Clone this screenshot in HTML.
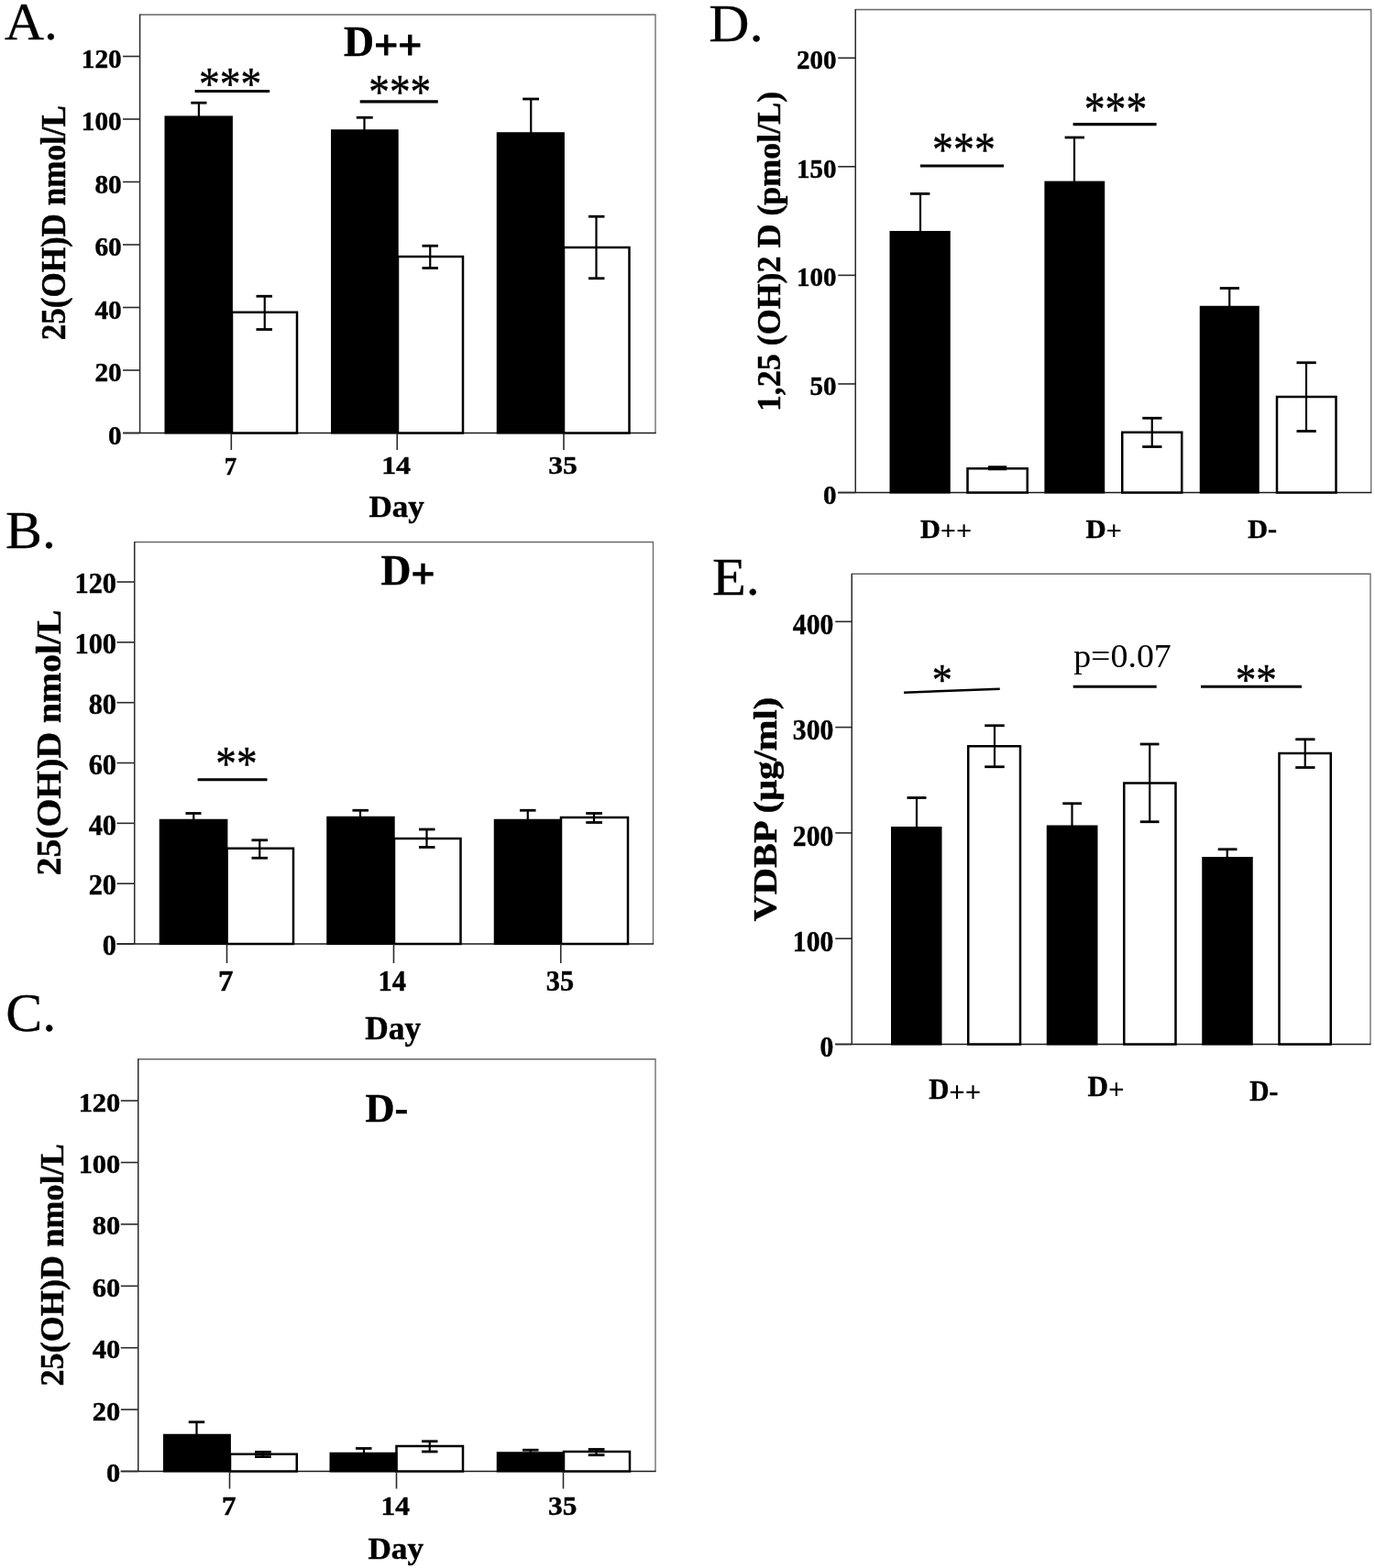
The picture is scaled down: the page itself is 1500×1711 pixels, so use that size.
<!DOCTYPE html>
<html><head><meta charset="utf-8"><title>Figure</title>
<style>html,body{margin:0;padding:0;background:#fff}svg{display:block}text{font-family:"Liberation Serif",serif;fill:#000}</style>
</head><body>
<svg width="1500" height="1711" viewBox="0 0 1500 1711">
<rect width="1500" height="1711" fill="#fff"/>
<path d="M152.60,16.00 H715.00 V472.50" fill="none" stroke="#666" stroke-width="1.3"/>
<line x1="152.60" y1="15.40" x2="152.60" y2="472.50" stroke="#2a2a2a" stroke-width="1.5"/>
<line x1="134.00" y1="472.50" x2="715.60" y2="472.50" stroke="#1a1a1a" stroke-width="1.6"/>
<line x1="134.00" y1="472.50" x2="152.60" y2="472.50" stroke="#2a2a2a" stroke-width="1.6"/>
<text transform="translate(118.05,484.50) scale(1.0000,1)" font-size="29.30" font-weight="bold" stroke="#000" stroke-width="0.45">0</text>
<line x1="134.00" y1="404.00" x2="152.60" y2="404.00" stroke="#2a2a2a" stroke-width="1.6"/>
<text transform="translate(103.40,416.00) scale(1.0000,1)" font-size="29.30" font-weight="bold" stroke="#000" stroke-width="0.45">20</text>
<line x1="134.00" y1="335.50" x2="152.60" y2="335.50" stroke="#2a2a2a" stroke-width="1.6"/>
<text transform="translate(103.40,347.50) scale(1.0000,1)" font-size="29.30" font-weight="bold" stroke="#000" stroke-width="0.45">40</text>
<line x1="134.00" y1="267.00" x2="152.60" y2="267.00" stroke="#2a2a2a" stroke-width="1.6"/>
<text transform="translate(103.40,279.00) scale(1.0000,1)" font-size="29.30" font-weight="bold" stroke="#000" stroke-width="0.45">60</text>
<line x1="134.00" y1="198.50" x2="152.60" y2="198.50" stroke="#2a2a2a" stroke-width="1.6"/>
<text transform="translate(103.40,210.50) scale(1.0000,1)" font-size="29.30" font-weight="bold" stroke="#000" stroke-width="0.45">80</text>
<line x1="134.00" y1="130.00" x2="152.60" y2="130.00" stroke="#2a2a2a" stroke-width="1.6"/>
<text transform="translate(88.75,142.00) scale(1.0000,1)" font-size="29.30" font-weight="bold" stroke="#000" stroke-width="0.45">100</text>
<line x1="134.00" y1="61.50" x2="152.60" y2="61.50" stroke="#2a2a2a" stroke-width="1.6"/>
<text transform="translate(88.75,73.50) scale(1.0000,1)" font-size="29.30" font-weight="bold" stroke="#000" stroke-width="0.45">120</text>
<rect x="253.00" y="340.75" width="71.00" height="131.75" fill="#fff" stroke="#000" stroke-width="2.5"/>
<line x1="288.75" y1="323.25" x2="288.75" y2="359.50" stroke="#000" stroke-width="2.2"/>
<line x1="279.50" y1="323.25" x2="297.00" y2="323.25" stroke="#000" stroke-width="2.8"/>
<line x1="279.50" y1="359.50" x2="297.00" y2="359.50" stroke="#000" stroke-width="2.8"/>
<rect x="434.00" y="280.00" width="71.00" height="192.50" fill="#fff" stroke="#000" stroke-width="2.5"/>
<line x1="469.25" y1="268.25" x2="469.25" y2="292.50" stroke="#000" stroke-width="2.2"/>
<line x1="460.50" y1="268.25" x2="478.00" y2="268.25" stroke="#000" stroke-width="2.8"/>
<line x1="460.50" y1="292.50" x2="478.00" y2="292.50" stroke="#000" stroke-width="2.8"/>
<rect x="615.00" y="270.00" width="71.50" height="202.50" fill="#fff" stroke="#000" stroke-width="2.5"/>
<line x1="650.50" y1="236.25" x2="650.50" y2="303.75" stroke="#000" stroke-width="2.2"/>
<line x1="642.00" y1="236.25" x2="659.50" y2="236.25" stroke="#000" stroke-width="2.8"/>
<line x1="642.00" y1="303.75" x2="659.50" y2="303.75" stroke="#000" stroke-width="2.8"/>
<rect x="179.50" y="126.40" width="74.40" height="347.10" fill="#000"/>
<line x1="216.90" y1="112.20" x2="216.90" y2="127.00" stroke="#000" stroke-width="2.2"/>
<line x1="208.30" y1="112.20" x2="225.50" y2="112.20" stroke="#000" stroke-width="2.8"/>
<rect x="361.00" y="141.25" width="73.70" height="332.25" fill="#000"/>
<line x1="397.50" y1="128.25" x2="397.50" y2="142.00" stroke="#000" stroke-width="2.2"/>
<line x1="388.75" y1="128.25" x2="406.75" y2="128.25" stroke="#000" stroke-width="2.8"/>
<rect x="541.75" y="144.25" width="74.15" height="329.25" fill="#000"/>
<line x1="579.25" y1="108.00" x2="579.25" y2="145.00" stroke="#000" stroke-width="2.2"/>
<line x1="570.20" y1="108.00" x2="588.00" y2="108.00" stroke="#000" stroke-width="2.8"/>
<line x1="252.30" y1="472.50" x2="252.30" y2="491.00" stroke="#2a2a2a" stroke-width="1.6"/>
<line x1="433.25" y1="472.50" x2="433.25" y2="491.00" stroke="#2a2a2a" stroke-width="1.6"/>
<line x1="615.00" y1="472.50" x2="615.00" y2="491.00" stroke="#2a2a2a" stroke-width="1.6"/>
<text transform="translate(244.70,517.50) scale(0.9540,1)" font-size="28.24" font-weight="bold" stroke="#000" stroke-width="0.45">7</text>
<text transform="translate(416.20,517.20) scale(1.1396,1)" font-size="27.95" font-weight="bold" stroke="#000" stroke-width="0.45">14</text>
<text transform="translate(598.31,517.20) scale(1.1355,1)" font-size="27.85" font-weight="bold" stroke="#000" stroke-width="0.45">35</text>
<text transform="translate(402.39,563.75) scale(1.0219,1)" font-size="34.35" font-weight="bold" stroke="#000" stroke-width="0.45">Day</text>
<text transform="translate(375.10,61.10) scale(0.9967,1)" font-size="45.95" font-weight="bold" stroke="#000" stroke-width="0.45">D<tspan dy="4.04" stroke-width="1.15">++</tspan></text>
<text transform="translate(71.00,371.29) rotate(-90) scale(0.9444,1)" font-size="37.12" font-weight="bold" stroke="#000" stroke-width="0.45">25(OH)D nmol/L</text>
<line x1="212.60" y1="99.50" x2="294.20" y2="99.50" stroke="#000" stroke-width="3.1"/>
<text transform="translate(217.02,108.13) scale(0.8956,1)" font-size="50.88" font-weight="normal" stroke="#000" stroke-width="0.45">***</text>
<line x1="392.70" y1="110.90" x2="477.80" y2="110.90" stroke="#000" stroke-width="3.1"/>
<text transform="translate(402.23,117.84) scale(0.8727,1)" font-size="51.97" font-weight="normal" stroke="#000" stroke-width="0.45">***</text>
<text transform="translate(4.90,43.00) scale(1.0491,1)" font-size="56.82" font-weight="normal" stroke="#000" stroke-width="0.3">A.</text>
<path d="M146.75,591.50 H712.50 V1030.00" fill="none" stroke="#666" stroke-width="1.3"/>
<line x1="146.75" y1="590.90" x2="146.75" y2="1030.00" stroke="#2a2a2a" stroke-width="1.5"/>
<line x1="127.50" y1="1030.00" x2="713.10" y2="1030.00" stroke="#1a1a1a" stroke-width="1.6"/>
<line x1="127.50" y1="1030.00" x2="146.75" y2="1030.00" stroke="#2a2a2a" stroke-width="1.6"/>
<text transform="translate(111.84,1042.20) scale(0.9470,1)" font-size="32.10" font-weight="bold" stroke="#000" stroke-width="0.45">0</text>
<line x1="127.50" y1="964.17" x2="146.75" y2="964.17" stroke="#2a2a2a" stroke-width="1.6"/>
<text transform="translate(96.64,976.37) scale(0.9470,1)" font-size="32.10" font-weight="bold" stroke="#000" stroke-width="0.45">20</text>
<line x1="127.50" y1="898.34" x2="146.75" y2="898.34" stroke="#2a2a2a" stroke-width="1.6"/>
<text transform="translate(96.64,910.54) scale(0.9470,1)" font-size="32.10" font-weight="bold" stroke="#000" stroke-width="0.45">40</text>
<line x1="127.50" y1="832.51" x2="146.75" y2="832.51" stroke="#2a2a2a" stroke-width="1.6"/>
<text transform="translate(96.64,844.71) scale(0.9470,1)" font-size="32.10" font-weight="bold" stroke="#000" stroke-width="0.45">60</text>
<line x1="127.50" y1="766.68" x2="146.75" y2="766.68" stroke="#2a2a2a" stroke-width="1.6"/>
<text transform="translate(96.64,778.88) scale(0.9470,1)" font-size="32.10" font-weight="bold" stroke="#000" stroke-width="0.45">80</text>
<line x1="127.50" y1="700.85" x2="146.75" y2="700.85" stroke="#2a2a2a" stroke-width="1.6"/>
<text transform="translate(81.44,713.05) scale(0.9470,1)" font-size="32.10" font-weight="bold" stroke="#000" stroke-width="0.45">100</text>
<line x1="127.50" y1="635.02" x2="146.75" y2="635.02" stroke="#2a2a2a" stroke-width="1.6"/>
<text transform="translate(81.44,647.22) scale(0.9470,1)" font-size="32.10" font-weight="bold" stroke="#000" stroke-width="0.45">120</text>
<rect x="247.50" y="925.75" width="72.50" height="104.25" fill="#fff" stroke="#000" stroke-width="2.5"/>
<line x1="283.25" y1="916.75" x2="283.25" y2="936.25" stroke="#000" stroke-width="2.2"/>
<line x1="274.50" y1="916.75" x2="292.00" y2="916.75" stroke="#000" stroke-width="2.8"/>
<line x1="274.50" y1="936.25" x2="292.00" y2="936.25" stroke="#000" stroke-width="2.8"/>
<rect x="430.00" y="915.00" width="72.50" height="115.00" fill="#fff" stroke="#000" stroke-width="2.5"/>
<line x1="465.50" y1="905.00" x2="465.50" y2="924.50" stroke="#000" stroke-width="2.2"/>
<line x1="457.00" y1="905.00" x2="474.50" y2="905.00" stroke="#000" stroke-width="2.8"/>
<line x1="457.00" y1="924.50" x2="474.50" y2="924.50" stroke="#000" stroke-width="2.8"/>
<rect x="612.00" y="892.00" width="73.00" height="138.00" fill="#fff" stroke="#000" stroke-width="2.5"/>
<line x1="648.00" y1="887.50" x2="648.00" y2="897.50" stroke="#000" stroke-width="2.2"/>
<line x1="639.25" y1="887.50" x2="657.00" y2="887.50" stroke="#000" stroke-width="2.8"/>
<line x1="639.25" y1="897.50" x2="657.00" y2="897.50" stroke="#000" stroke-width="2.8"/>
<rect x="173.75" y="893.75" width="74.65" height="137.25" fill="#000"/>
<line x1="211.25" y1="887.50" x2="211.25" y2="894.50" stroke="#000" stroke-width="2.2"/>
<line x1="202.50" y1="887.50" x2="219.50" y2="887.50" stroke="#000" stroke-width="2.8"/>
<rect x="356.25" y="890.75" width="74.45" height="140.25" fill="#000"/>
<line x1="393.00" y1="884.25" x2="393.00" y2="891.50" stroke="#000" stroke-width="2.2"/>
<line x1="384.50" y1="884.25" x2="402.00" y2="884.25" stroke="#000" stroke-width="2.8"/>
<rect x="538.75" y="893.75" width="73.95" height="137.25" fill="#000"/>
<line x1="575.75" y1="884.25" x2="575.75" y2="894.50" stroke="#000" stroke-width="2.2"/>
<line x1="567.00" y1="884.25" x2="584.50" y2="884.25" stroke="#000" stroke-width="2.8"/>
<line x1="247.50" y1="1030.00" x2="247.50" y2="1051.00" stroke="#2a2a2a" stroke-width="1.6"/>
<line x1="429.50" y1="1030.00" x2="429.50" y2="1051.00" stroke="#2a2a2a" stroke-width="1.6"/>
<line x1="611.75" y1="1030.00" x2="611.75" y2="1051.00" stroke="#2a2a2a" stroke-width="1.6"/>
<text transform="translate(238.11,1081.25) scale(1.0396,1)" font-size="31.68" font-weight="bold" stroke="#000" stroke-width="0.45">7</text>
<text transform="translate(412.56,1081.25) scale(0.9464,1)" font-size="32.20" font-weight="bold" stroke="#000" stroke-width="0.45">14</text>
<text transform="translate(595.86,1081.25) scale(0.9437,1)" font-size="32.08" font-weight="bold" stroke="#000" stroke-width="0.45">35</text>
<text transform="translate(398.13,1133.75) scale(0.9762,1)" font-size="36.26" font-weight="bold" stroke="#000" stroke-width="0.45">Day</text>
<text transform="translate(415.45,637.50) scale(0.9957,1)" font-size="45.80" font-weight="bold" stroke="#000" stroke-width="0.45">D<tspan dy="4.03" stroke-width="1.15">+</tspan></text>
<text transform="translate(65.70,955.44) rotate(-90) scale(1.0737,1)" font-size="36.98" font-weight="bold" stroke="#000" stroke-width="0.45">25(OH)D nmol/L</text>
<line x1="215.60" y1="850.80" x2="291.50" y2="850.80" stroke="#000" stroke-width="3.1"/>
<text transform="translate(235.34,851.44) scale(0.8701,1)" font-size="51.97" font-weight="normal" stroke="#000" stroke-width="0.45">**</text>
<text transform="translate(6.11,597.50) scale(1.0483,1)" font-size="56.95" font-weight="normal" stroke="#000" stroke-width="0.3">B.</text>
<path d="M150.75,1155.75 H715.00 V1605.50" fill="none" stroke="#666" stroke-width="1.3"/>
<line x1="150.75" y1="1155.15" x2="150.75" y2="1605.50" stroke="#2a2a2a" stroke-width="1.5"/>
<line x1="131.75" y1="1605.50" x2="715.60" y2="1605.50" stroke="#1a1a1a" stroke-width="1.6"/>
<line x1="131.75" y1="1605.50" x2="150.75" y2="1605.50" stroke="#2a2a2a" stroke-width="1.6"/>
<text transform="translate(116.11,1616.90) scale(1.0400,1)" font-size="29.30" font-weight="bold" stroke="#000" stroke-width="0.45">0</text>
<line x1="131.75" y1="1538.10" x2="150.75" y2="1538.10" stroke="#2a2a2a" stroke-width="1.6"/>
<text transform="translate(100.87,1549.50) scale(1.0400,1)" font-size="29.30" font-weight="bold" stroke="#000" stroke-width="0.45">20</text>
<line x1="131.75" y1="1470.70" x2="150.75" y2="1470.70" stroke="#2a2a2a" stroke-width="1.6"/>
<text transform="translate(100.87,1482.10) scale(1.0400,1)" font-size="29.30" font-weight="bold" stroke="#000" stroke-width="0.45">40</text>
<line x1="131.75" y1="1403.30" x2="150.75" y2="1403.30" stroke="#2a2a2a" stroke-width="1.6"/>
<text transform="translate(100.87,1414.70) scale(1.0400,1)" font-size="29.30" font-weight="bold" stroke="#000" stroke-width="0.45">60</text>
<line x1="131.75" y1="1335.90" x2="150.75" y2="1335.90" stroke="#2a2a2a" stroke-width="1.6"/>
<text transform="translate(100.87,1347.30) scale(1.0400,1)" font-size="29.30" font-weight="bold" stroke="#000" stroke-width="0.45">80</text>
<line x1="131.75" y1="1268.50" x2="150.75" y2="1268.50" stroke="#2a2a2a" stroke-width="1.6"/>
<text transform="translate(85.63,1279.90) scale(1.0400,1)" font-size="29.30" font-weight="bold" stroke="#000" stroke-width="0.45">100</text>
<line x1="131.75" y1="1201.10" x2="150.75" y2="1201.10" stroke="#2a2a2a" stroke-width="1.6"/>
<text transform="translate(85.63,1212.50) scale(1.0400,1)" font-size="29.30" font-weight="bold" stroke="#000" stroke-width="0.45">120</text>
<rect x="251.00" y="1586.75" width="72.75" height="18.75" fill="#fff" stroke="#000" stroke-width="2.5"/>
<line x1="286.75" y1="1584.40" x2="286.75" y2="1589.60" stroke="#000" stroke-width="2.2"/>
<line x1="278.00" y1="1584.40" x2="295.75" y2="1584.40" stroke="#000" stroke-width="2.8"/>
<line x1="278.00" y1="1589.60" x2="295.75" y2="1589.60" stroke="#000" stroke-width="2.8"/>
<rect x="432.50" y="1578.00" width="72.50" height="27.50" fill="#fff" stroke="#000" stroke-width="2.5"/>
<line x1="468.75" y1="1572.75" x2="468.75" y2="1584.00" stroke="#000" stroke-width="2.2"/>
<line x1="460.00" y1="1572.75" x2="477.50" y2="1572.75" stroke="#000" stroke-width="2.8"/>
<line x1="460.00" y1="1584.00" x2="477.50" y2="1584.00" stroke="#000" stroke-width="2.8"/>
<rect x="615.00" y="1584.00" width="72.00" height="21.50" fill="#fff" stroke="#000" stroke-width="2.5"/>
<line x1="650.50" y1="1581.50" x2="650.50" y2="1587.75" stroke="#000" stroke-width="2.2"/>
<line x1="641.75" y1="1581.50" x2="659.50" y2="1581.50" stroke="#000" stroke-width="2.8"/>
<line x1="641.75" y1="1587.75" x2="659.50" y2="1587.75" stroke="#000" stroke-width="2.8"/>
<rect x="178.00" y="1564.75" width="73.90" height="41.75" fill="#000"/>
<line x1="214.50" y1="1551.75" x2="214.50" y2="1565.50" stroke="#000" stroke-width="2.2"/>
<line x1="205.75" y1="1551.75" x2="223.25" y2="1551.75" stroke="#000" stroke-width="2.8"/>
<rect x="359.50" y="1584.75" width="73.90" height="21.75" fill="#000"/>
<line x1="397.00" y1="1580.50" x2="397.00" y2="1585.50" stroke="#000" stroke-width="2.2"/>
<line x1="388.00" y1="1580.50" x2="405.50" y2="1580.50" stroke="#000" stroke-width="2.8"/>
<rect x="541.75" y="1584.25" width="73.95" height="22.25" fill="#000"/>
<line x1="578.75" y1="1582.25" x2="578.75" y2="1585.00" stroke="#000" stroke-width="2.2"/>
<line x1="570.00" y1="1582.25" x2="587.50" y2="1582.25" stroke="#000" stroke-width="2.8"/>
<line x1="250.50" y1="1605.50" x2="250.50" y2="1624.50" stroke="#2a2a2a" stroke-width="1.6"/>
<line x1="432.50" y1="1605.50" x2="432.50" y2="1624.50" stroke="#2a2a2a" stroke-width="1.6"/>
<line x1="614.50" y1="1605.50" x2="614.50" y2="1624.50" stroke="#2a2a2a" stroke-width="1.6"/>
<text transform="translate(241.96,1653.00) scale(1.0459,1)" font-size="29.77" font-weight="bold" stroke="#000" stroke-width="0.45">7</text>
<text transform="translate(415.50,1653.00) scale(1.0595,1)" font-size="29.55" font-weight="bold" stroke="#000" stroke-width="0.45">14</text>
<text transform="translate(598.07,1653.00) scale(1.0651,1)" font-size="29.43" font-weight="bold" stroke="#000" stroke-width="0.45">35</text>
<text transform="translate(401.38,1701.00) scale(1.0262,1)" font-size="34.35" font-weight="bold" stroke="#000" stroke-width="0.45">Day</text>
<text transform="translate(398.47,1223.75) scale(0.9940,1)" font-size="44.66" font-weight="bold" stroke="#000" stroke-width="0.45">D-</text>
<text transform="translate(68.75,1512.54) rotate(-90) scale(1.0065,1)" font-size="35.97" font-weight="bold" stroke="#000" stroke-width="0.45">25(OH)D nmol/L</text>
<text transform="translate(6.35,1125.00) scale(1.0258,1)" font-size="58.49" font-weight="normal" stroke="#000" stroke-width="0.3">C.</text>
<path d="M933.25,10.50 H1495.75 V537.50" fill="none" stroke="#666" stroke-width="1.3"/>
<line x1="933.25" y1="9.90" x2="933.25" y2="537.50" stroke="#2a2a2a" stroke-width="1.5"/>
<line x1="914.25" y1="537.50" x2="1496.35" y2="537.50" stroke="#1a1a1a" stroke-width="1.6"/>
<line x1="914.25" y1="537.50" x2="933.25" y2="537.50" stroke="#2a2a2a" stroke-width="1.6"/>
<text transform="translate(897.99,549.50) scale(1.0000,1)" font-size="29.00" font-weight="bold" stroke="#000" stroke-width="0.45">0</text>
<line x1="914.25" y1="418.94" x2="933.25" y2="418.94" stroke="#2a2a2a" stroke-width="1.6"/>
<text transform="translate(883.49,430.94) scale(1.0000,1)" font-size="29.00" font-weight="bold" stroke="#000" stroke-width="0.45">50</text>
<line x1="914.25" y1="300.38" x2="933.25" y2="300.38" stroke="#2a2a2a" stroke-width="1.6"/>
<text transform="translate(868.99,312.38) scale(1.0000,1)" font-size="29.00" font-weight="bold" stroke="#000" stroke-width="0.45">100</text>
<line x1="914.25" y1="181.82" x2="933.25" y2="181.82" stroke="#2a2a2a" stroke-width="1.6"/>
<text transform="translate(868.99,193.82) scale(1.0000,1)" font-size="29.00" font-weight="bold" stroke="#000" stroke-width="0.45">150</text>
<line x1="914.25" y1="63.26" x2="933.25" y2="63.26" stroke="#2a2a2a" stroke-width="1.6"/>
<text transform="translate(868.99,75.26) scale(1.0000,1)" font-size="29.00" font-weight="bold" stroke="#000" stroke-width="0.45">200</text>
<rect x="1055.50" y="511.25" width="65.25" height="26.25" fill="#fff" stroke="#000" stroke-width="2.5"/>
<line x1="1078.00" y1="510.75" x2="1098.25" y2="510.75" stroke="#000" stroke-width="5"/>
<rect x="1224.25" y="471.75" width="65.00" height="65.75" fill="#fff" stroke="#000" stroke-width="2.5"/>
<line x1="1256.75" y1="456.25" x2="1256.75" y2="487.50" stroke="#000" stroke-width="2.2"/>
<line x1="1246.25" y1="456.25" x2="1267.50" y2="456.25" stroke="#000" stroke-width="2.8"/>
<line x1="1246.25" y1="487.50" x2="1267.50" y2="487.50" stroke="#000" stroke-width="2.8"/>
<rect x="1393.00" y="433.00" width="64.50" height="104.50" fill="#fff" stroke="#000" stroke-width="2.5"/>
<line x1="1425.00" y1="395.75" x2="1425.00" y2="470.50" stroke="#000" stroke-width="2.2"/>
<line x1="1414.50" y1="395.75" x2="1435.75" y2="395.75" stroke="#000" stroke-width="2.8"/>
<line x1="1414.50" y1="470.50" x2="1435.75" y2="470.50" stroke="#000" stroke-width="2.8"/>
<rect x="970.50" y="252.00" width="66.25" height="286.50" fill="#000"/>
<line x1="1004.00" y1="211.40" x2="1004.00" y2="253.00" stroke="#000" stroke-width="2.2"/>
<line x1="993.00" y1="211.40" x2="1014.40" y2="211.40" stroke="#000" stroke-width="2.8"/>
<rect x="1139.40" y="197.60" width="65.80" height="340.90" fill="#000"/>
<line x1="1172.00" y1="150.00" x2="1172.00" y2="198.50" stroke="#000" stroke-width="2.2"/>
<line x1="1161.60" y1="150.00" x2="1183.00" y2="150.00" stroke="#000" stroke-width="2.8"/>
<rect x="1308.75" y="333.75" width="65.00" height="204.75" fill="#000"/>
<line x1="1341.25" y1="314.50" x2="1341.25" y2="334.50" stroke="#000" stroke-width="2.2"/>
<line x1="1330.75" y1="314.50" x2="1352.00" y2="314.50" stroke="#000" stroke-width="2.8"/>
<text transform="translate(1003.97,586.75) scale(1.0298,1)" font-size="29.39" font-weight="bold" stroke="#000" stroke-width="0.45">D<tspan dy="2.59" stroke-width="0">++</tspan></text>
<text transform="translate(1184.46,586.75) scale(1.0437,1)" font-size="29.39" font-weight="bold" stroke="#000" stroke-width="0.45">D<tspan dy="2.59" stroke-width="0">+</tspan></text>
<text transform="translate(1361.22,586.75) scale(1.0267,1)" font-size="29.39" font-weight="bold" stroke="#000" stroke-width="0.45">D-</text>
<text transform="translate(851.25,449.12) rotate(-90) scale(0.9991,1)" font-size="35.97" font-weight="bold" stroke="#000" stroke-width="0.45">1,25 (OH)2 D (pmol/L)</text>
<line x1="1004.00" y1="181.00" x2="1095.00" y2="181.00" stroke="#000" stroke-width="3.1"/>
<text transform="translate(1017.11,180.93) scale(0.8598,1)" font-size="53.33" font-weight="normal" stroke="#000" stroke-width="0.45">***</text>
<line x1="1170.60" y1="135.60" x2="1261.60" y2="135.60" stroke="#000" stroke-width="3.1"/>
<text transform="translate(1182.71,136.93) scale(0.8571,1)" font-size="53.33" font-weight="normal" stroke="#000" stroke-width="0.45">***</text>
<text transform="translate(773.16,44.50) scale(1.0844,1)" font-size="56.49" font-weight="normal" stroke="#000" stroke-width="0.3">D.</text>
<path d="M929.25,626.25 H1495.00 V1139.50" fill="none" stroke="#666" stroke-width="1.3"/>
<line x1="929.25" y1="625.65" x2="929.25" y2="1139.50" stroke="#2a2a2a" stroke-width="1.5"/>
<line x1="911.25" y1="1139.50" x2="1495.60" y2="1139.50" stroke="#1a1a1a" stroke-width="1.6"/>
<line x1="911.25" y1="1139.50" x2="929.25" y2="1139.50" stroke="#2a2a2a" stroke-width="1.6"/>
<text transform="translate(894.48,1153.25) scale(0.9100,1)" font-size="32.60" font-weight="bold" stroke="#000" stroke-width="0.45">0</text>
<line x1="911.25" y1="1024.20" x2="929.25" y2="1024.20" stroke="#2a2a2a" stroke-width="1.6"/>
<text transform="translate(864.81,1037.95) scale(0.9100,1)" font-size="32.60" font-weight="bold" stroke="#000" stroke-width="0.45">100</text>
<line x1="911.25" y1="908.90" x2="929.25" y2="908.90" stroke="#2a2a2a" stroke-width="1.6"/>
<text transform="translate(864.81,922.65) scale(0.9100,1)" font-size="32.60" font-weight="bold" stroke="#000" stroke-width="0.45">200</text>
<line x1="911.25" y1="793.60" x2="929.25" y2="793.60" stroke="#2a2a2a" stroke-width="1.6"/>
<text transform="translate(864.81,807.35) scale(0.9100,1)" font-size="32.60" font-weight="bold" stroke="#000" stroke-width="0.45">300</text>
<line x1="911.25" y1="678.30" x2="929.25" y2="678.30" stroke="#2a2a2a" stroke-width="1.6"/>
<text transform="translate(864.81,692.05) scale(0.9100,1)" font-size="32.60" font-weight="bold" stroke="#000" stroke-width="0.45">400</text>
<rect x="1056.25" y="814.25" width="56.75" height="325.25" fill="#fff" stroke="#000" stroke-width="2.5"/>
<line x1="1085.00" y1="791.75" x2="1085.00" y2="836.75" stroke="#000" stroke-width="2.2"/>
<line x1="1074.25" y1="791.75" x2="1095.75" y2="791.75" stroke="#000" stroke-width="2.8"/>
<line x1="1074.25" y1="836.75" x2="1095.75" y2="836.75" stroke="#000" stroke-width="2.8"/>
<rect x="1226.25" y="854.50" width="56.25" height="285.00" fill="#fff" stroke="#000" stroke-width="2.5"/>
<line x1="1254.25" y1="812.00" x2="1254.25" y2="896.75" stroke="#000" stroke-width="2.2"/>
<line x1="1243.75" y1="812.00" x2="1264.50" y2="812.00" stroke="#000" stroke-width="2.8"/>
<line x1="1243.75" y1="896.75" x2="1264.50" y2="896.75" stroke="#000" stroke-width="2.8"/>
<rect x="1395.50" y="822.00" width="56.25" height="317.50" fill="#fff" stroke="#000" stroke-width="2.5"/>
<line x1="1423.75" y1="806.75" x2="1423.75" y2="837.50" stroke="#000" stroke-width="2.2"/>
<line x1="1413.25" y1="806.75" x2="1434.50" y2="806.75" stroke="#000" stroke-width="2.8"/>
<line x1="1413.25" y1="837.50" x2="1434.50" y2="837.50" stroke="#000" stroke-width="2.8"/>
<rect x="972.00" y="902.00" width="55.50" height="238.50" fill="#000"/>
<line x1="1000.00" y1="870.50" x2="1000.00" y2="903.00" stroke="#000" stroke-width="2.2"/>
<line x1="989.50" y1="870.50" x2="1010.50" y2="870.50" stroke="#000" stroke-width="2.8"/>
<rect x="1141.75" y="900.50" width="55.75" height="240.00" fill="#000"/>
<line x1="1169.50" y1="876.75" x2="1169.50" y2="901.50" stroke="#000" stroke-width="2.2"/>
<line x1="1159.25" y1="876.75" x2="1180.00" y2="876.75" stroke="#000" stroke-width="2.8"/>
<rect x="1311.25" y="935.00" width="55.50" height="205.50" fill="#000"/>
<line x1="1338.75" y1="926.75" x2="1338.75" y2="936.00" stroke="#000" stroke-width="2.2"/>
<line x1="1328.75" y1="926.75" x2="1349.50" y2="926.75" stroke="#000" stroke-width="2.8"/>
<text transform="translate(1013.21,1199.25) scale(0.9458,1)" font-size="32.44" font-weight="bold" stroke="#000" stroke-width="0.45">D<tspan dy="2.85" stroke-width="0">++</tspan></text>
<text transform="translate(1186.46,1196.25) scale(0.9581,1)" font-size="32.44" font-weight="bold" stroke="#000" stroke-width="0.45">D<tspan dy="2.85" stroke-width="0">+</tspan></text>
<text transform="translate(1363.24,1201.25) scale(0.9070,1)" font-size="32.44" font-weight="bold" stroke="#000" stroke-width="0.45">D-</text>
<text transform="translate(846.50,1005.40) rotate(-90) scale(1.1156,1)" font-size="36.26" font-weight="bold" stroke="#000" stroke-width="0.45">VDBP (µg/ml)</text>
<text transform="translate(1016.79,758.08) scale(0.9034,1)" font-size="48.98" font-weight="normal" stroke="#000" stroke-width="0.45">*</text>
<line x1="986.00" y1="755.70" x2="1090.70" y2="751.70" stroke="#000" stroke-width="2.6"/>
<text transform="translate(1171.13,727.70) scale(1.0331,1)" font-size="36.69" font-weight="normal">p=0.07</text>
<line x1="1170.70" y1="749.30" x2="1261.70" y2="749.30" stroke="#000" stroke-width="3.1"/>
<text transform="translate(1347.74,758.08) scale(0.9233,1)" font-size="48.98" font-weight="normal" stroke="#000" stroke-width="0.45">**</text>
<line x1="1310.00" y1="749.30" x2="1420.00" y2="749.30" stroke="#000" stroke-width="3.1"/>
<text transform="translate(776.94,649.25) scale(1.0775,1)" font-size="56.11" font-weight="normal" stroke="#000" stroke-width="0.3">E.</text>
</svg>
</body></html>
